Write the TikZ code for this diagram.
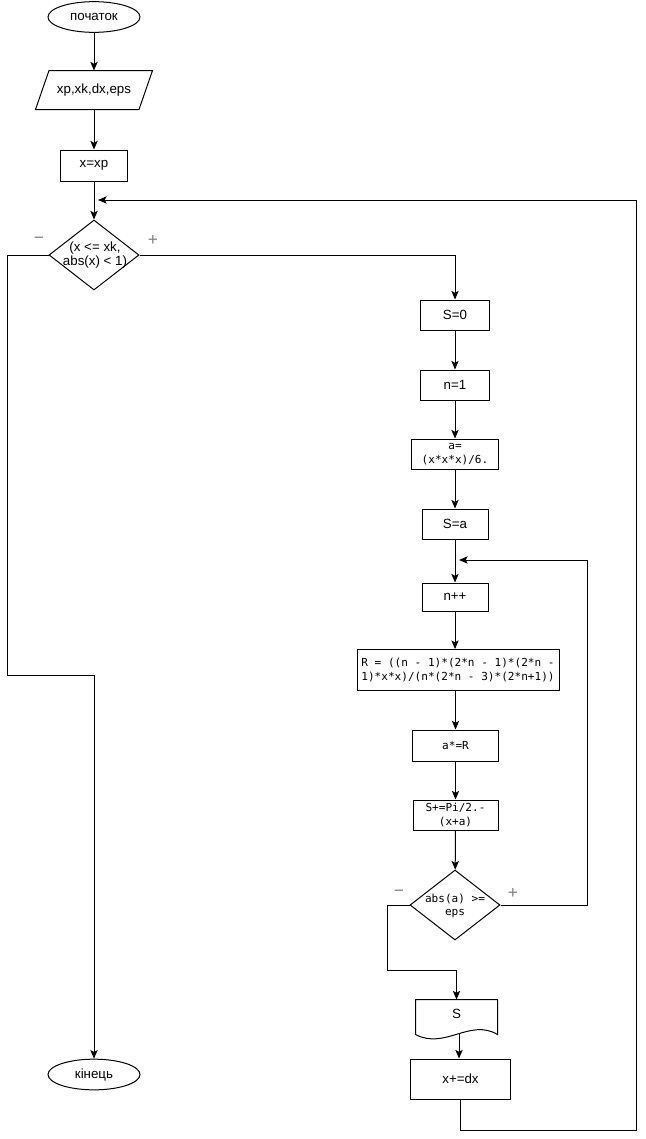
\documentclass[tikz,border=0pt]{standalone}
\usepackage{fontspec}
\setmainfont{Liberation Sans}
\newfontfamily\codefont{DejaVu Sans Mono}
\usetikzlibrary{shapes.geometric,arrows.meta}
\begin{document}
\begin{tikzpicture}[x=0.75pt,y=-0.75pt,line width=0.75pt,
            >={Stealth[length=6.5pt,width=5.5pt,inset=1.5pt]},
            every node/.append style={inner sep=0pt,font=\fontsize{10}{11}\selectfont},
            term/.style={draw,ellipse,minimum width=69pt,minimum height=23pt},
            io/.style={rectangle,minimum width=87pt,minimum height=28.5pt},
            proc/.style={draw,rectangle,align=center},
            cond/.style={draw,diamond,minimum width=67.5pt,minimum height=52.5pt},
            code/.style={font=\codefont\fontsize{8.3}{10}\selectfont,align=center},
            sign/.style={text=gray,font=\fontsize{13}{15}\selectfont}]
                \useasboundingbox (0,0) rectangle (646,1139);
                \node[term] (start) at (94,17) {початок};
                \node[io] (inp) at (94,90) {xp,xk,dx,eps};
                \draw ([xshift=10.125pt]inp.north west) -- (inp.north east)
                    -- ([xshift=-10.125pt]inp.south east) -- (inp.south west) -- cycle;
                \node[proc,minimum width=50.25pt,minimum height=23.25pt] (x0) at (94,165.5) {x=xp};
                \node[cond] (c1) at (94,255) {};
                \node[align=center] (c1t) at (95,255) {(x <= xk,\\abs(x) < 1)};
                \node[sign] (c1m) at (39,240) {−};
                \node[sign] (c1p) at (153,240) {+};
                \node[proc,minimum width=51.75pt,minimum height=22.5pt] (s0) at (455,315) {S=0};
                \node[proc,minimum width=51.75pt,minimum height=22.5pt] (n1) at (455,385) {n=1};
                \node[proc,code,minimum width=65.25pt,minimum height=22.5pt] (a0) at (455,454) {a=\\(x*x*x)/6.};
                \node[proc,minimum width=49.5pt,minimum height=22.5pt] (sa) at (455,524) {S=a};
                \node[proc,minimum width=49.5pt,minimum height=21pt] (ninc) at (455,597) {n++};
                \node[proc,code,minimum width=151.5pt,minimum height=30.75pt] (rr) at (458,670)
                    {R = ((n - 1)*(2*n - 1)*(2*n -\\1)*x*x)/(n*(2*n - 3)*(2*n+1))};
                \node[proc,code,minimum width=64.5pt,minimum height=23.25pt] (am) at (455.5,745.5) {a*=R};
                \node[proc,code,minimum width=63.75pt,minimum height=22.5pt] (sp) at (455.5,815) {S+=Pi/2.-\\(x+a)};
                \node[cond] (c2) at (455,905) {};
                \node[code] (c2t) at (455,906) {abs(a) >=\\eps};
                \node[sign] (c2m) at (399,893) {−};
                \node[sign] (c2p) at (513,893) {+};
                \node[minimum width=60.75pt,minimum height=21pt] (sout) at (456.5,1014) {S};
                \draw (sout.north west) -- (sout.north east) -- ([yshift=-4.5pt]sout.south east)
                    .. controls (470,1018) and (445,1050) .. ([yshift=-4.5pt]sout.south west) -- cycle;
                \coordinate (soutb) at (459,1034);
                \node[proc,minimum width=75pt,minimum height=30pt] (dx) at (460.5,1079) {x+=dx};
                \node[term] (end) at (94,1074.5) {кінець};
                \coordinate (j1) at (98,200);
                \coordinate (j2) at (459,560);
                \draw[->] (start) -- (inp);
                \draw[->] (inp) -- (x0);
                \draw[->] (x0) -- (c1);
                \draw[->] (c1.west) -| (7,675) -| (end.north);
                \draw[->] (c1.east) -| (s0.north);
                \draw[->] (s0) -- (n1);
                \draw[->] (n1) -- (a0);
                \draw[->] (a0) -- (sa);
                \draw[->] (sa) -- (ninc);
                \draw[->] (ninc) -- (ninc.south |- rr.north);
                \draw[->] (rr.south -| am.north) -- (am.north);
                \draw[->] (am) -- (sp);
                \draw[->] (sp) -- (c2);
                \draw[->] (c2.east) -| (587,560) -- (j2);
                \draw[->] (c2.west) -| (387,970) -| (sout.north);
                \draw[->] (soutb) -- (soutb |- dx.north);
                \draw[->] (dx.south) |- (636,1130) |- (j1);
            \end{tikzpicture}
\end{document}
